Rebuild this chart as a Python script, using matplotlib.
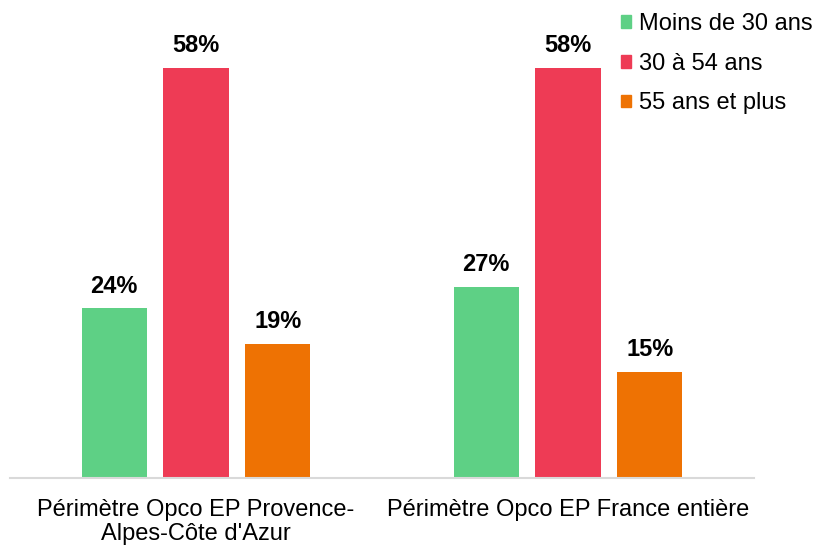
import matplotlib.pyplot as plt
from matplotlib.patches import Patch
import numpy as np

plt.rcParams['font.family'] = ['Liberation Sans', 'DejaVu Sans']

categories = ["Périmètre Opco EP Provence-\nAlpes-Côte d'Azur", "Périmètre Opco EP France entière"]
series = ["Moins de 30 ans", "30 à 54 ans", "55 ans et plus"]
values = {
    "Moins de 30 ans": [24, 27],
    "30 à 54 ans": [58, 58],
    "55 ans et plus": [19, 15],
}
colors = ['#5ED085', '#EE3B55', '#EE7203']

fig = plt.figure(figsize=(8.18, 5.48), dpi=100)
ax = fig.add_axes([10/818, 70/548, 744/818, 466/548])

x = np.arange(len(categories))
width = 0.175
step = 0.22
for i, (name, col) in enumerate(zip(series, colors)):
    pos = x + (i - 1) * step
    bars = ax.bar(pos, values[name], width, color=col, label=name)
    for b, v in zip(bars, values[name]):
        ax.text(b.get_x() + b.get_width()/2, v + 1.5, f'{v}%',
                ha='center', va='bottom', fontsize=17, fontweight='bold')

ax.set_xlim(-0.5, 1.5)
ax.set_ylim(0, 65.9)
ax.set_yticks([])
ax.set_xticks(x)
ax.set_xticklabels(categories, fontsize=17, linespacing=1.15)
ax.tick_params(axis='x', length=0, pad=15)
for s in ['top', 'right', 'left']:
    ax.spines[s].set_visible(False)
ax.spines['bottom'].set_color('#d9d9d9')
ax.spines['bottom'].set_linewidth(1.5)

handles = [Patch(color=c) for c in colors]
fig.legend(handles, series, loc='upper right', bbox_to_anchor=(1.0 + 8/818, 1.0),
           frameon=False, fontsize=17, handlelength=0.45, handleheight=0.45,
           handletextpad=0.35, labelspacing=0.75, borderaxespad=0.15)

fig.savefig('out.png', dpi=100)
